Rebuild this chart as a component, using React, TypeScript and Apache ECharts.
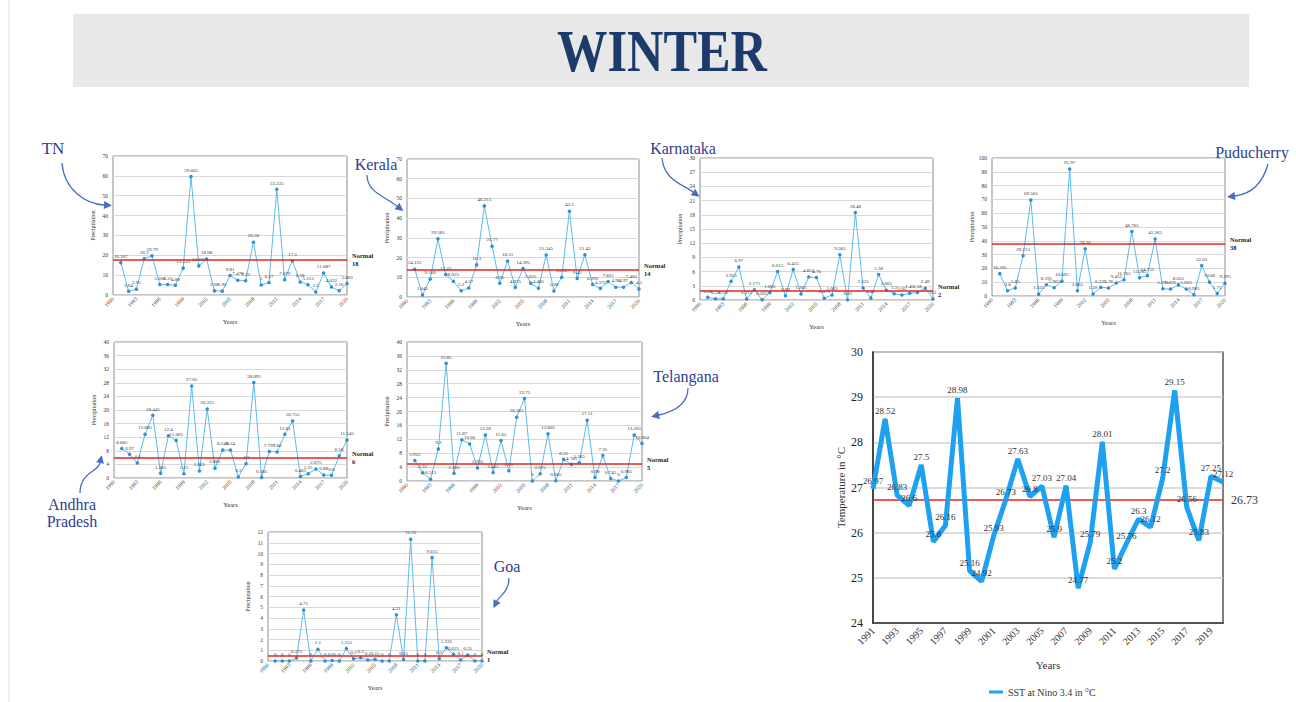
import React, { useEffect, useRef } from "react";
import * as echarts from "echarts";

const FONT = "Liberation Serif";

// x axis ticks of the small charts (1990-2020), data years 1991-2020
const axisYears = ["1990","1991","1992","1993","1994","1995","1996","1997","1998","1999","2000","2001","2002","2003","2004","2005","2006","2007","2008","2009","2010","2011","2012","2013","2014","2015","2016","2017","2018","2019","2020"];
const years = ["1991","1992","1993","1994","1995","1996","1997","1998","1999","2000","2001","2002","2003","2004","2005","2006","2007","2008","2009","2010","2011","2012","2013","2014","2015","2016","2017","2018","2019","2020"];

const tnValues = [16.307,1.84,2.95,18.3,19.79,5.308,5.31,4.88,13.533,59.665,14.665,18.08,2.08,1.95,9.81,7.478,7.23,26.58,5,6.27,53.235,7.679,17.3,6.58,5.213,1.5,11.087,4.032,2.16,5.803];
const keralaValues = [14.125,1.045,9.109,29.585,11.43,8.025,3.2,4.57,16.3,46.215,25.77,6.95,18.31,4.875,14.395,7.035,4.485,21.345,3.08,10.06,43.5,9.45,21.42,6.395,4.375,7.825,4.98,4.97,7.405,4.1];
const karnatakaValues = [0.56,0.28,0.28,3.955,6.97,0.215,2.175,0.035,1.605,6.015,0.88,6.455,1.265,4.855,4.76,0.375,1.065,9.565,0.03,18.48,2.535,0.42,5.38,2.065,1.3,1.05,1.45,1.58,2.49,0.2];
const puducherryValues = [16.205,3.8,5.85,29.213,69.565,1.325,8.195,5.965,10.695,91.97,3.865,34.16,1.39,6.335,5.76,9.455,11.765,46.765,13.285,14.755,41.265,5.295,5.035,8.055,5.025,0.985,22.03,10.06,1.75,9.295];
const apValues = [8.665,6.97,4.4,12.885,18.445,1.365,12.4,11.065,1.25,27.05,2.065,20.315,2.885,8.248,8.24,0.3,4.2,28.095,0.185,7.795,7.66,12.85,16.755,0.465,1.25,2.675,0.88,0.8,6.56,11.145];
const telanganaValues = [5.925,2.35,0.515,9.2,33.85,2.205,11.87,10.66,3.765,13.26,2.465,11.65,2.92,18.365,23.75,0,2.075,13.605,0.065,6.22,4.785,5.265,17.51,0.98,7.35,0.745,0,0.985,13.205,10.804];
const goaValues = [0,0,0,0.275,4.75,0,1.1,0,0.05,0,1.155,0.2,0.3,0.1,0.15,0,0,4.31,0.15,11.33,0,0,9.615,0.2,1.235,0.625,0.1,0.55,0,0];

const tnNormal = 18;
const keralaNormal = 14;
const karnatakaNormal = 2;
const puducherryNormal = 38;
const apNormal = 6;
const telanganaNormal = 5;
const goaNormal = 0.5;

const sstYears = ["1991","1992","1993","1994","1995","1996","1997","1998","1999","2000","2001","2002","2003","2004","2005","2006","2007","2008","2009","2010","2011","2012","2013","2014","2015","2016","2017","2018","2019","2020"];
const sstValues = [26.97,28.52,26.83,26.6,27.5,25.8,26.16,28.98,25.16,24.92,25.93,26.73,27.63,26.8,27.03,25.9,27.04,24.77,25.79,28.01,25.2,25.76,26.3,26.12,27.2,29.15,26.56,25.83,27.25,27.12];
const sstAverage = 26.73;
const sstName = "SST at Nino 3.4 in °C";

const panels = [
  { values: tnValues, normal: tnNormal, normalLabel: "18", max: 70, interval: 10, left: 113, top: 156, width: 234, height: 139 },
  { values: keralaValues, normal: keralaNormal, normalLabel: "14", max: 70, interval: 10, left: 407, top: 159, width: 232, height: 138 },
  { values: karnatakaValues, normal: karnatakaNormal, normalLabel: "2", max: 30, interval: 3, left: 700, top: 158, width: 233, height: 142 },
  { values: puducherryValues, normal: puducherryNormal, normalLabel: "38", max: 100, interval: 10, left: 992, top: 158, width: 233, height: 138 },
  { values: apValues, normal: apNormal, normalLabel: "6", max: 40, interval: 4, left: 114, top: 342, width: 233, height: 136 },
  { values: telanganaValues, normal: telanganaNormal, normalLabel: "5", max: 40, interval: 4, left: 407, top: 342, width: 235, height: 139 },
  { values: goaValues, normal: goaNormal, normalLabel: "1", max: 12, interval: 1, left: 268, top: 532, width: 214, height: 129 },
];

const annoColor = "#2e3d8f";
const arrowColor = "#4a6cc4";
const normalRed = "#e5261b";

function arrow(sx: number, sy: number, c1x: number, c1y: number, c2x: number, c2y: number, ex: number, ey: number) {
  const dx = ex - c2x, dy = ey - c2y;
  const len = Math.sqrt(dx * dx + dy * dy) || 1;
  const ux = dx / len, uy = dy / len;
  const px = -uy, py = ux;
  const tipX = ex + ux * 8, tipY = ey + uy * 8;
  return [
    { type: "bezierCurve", shape: { x1: sx, y1: sy, cpx1: c1x, cpy1: c1y, cpx2: c2x, cpy2: c2y, x2: ex, y2: ey }, style: { stroke: arrowColor, lineWidth: 1.3, fill: "none" } },
    { type: "polygon", shape: { points: [[tipX, tipY], [ex + px * 4, ey + py * 4], [ex - px * 4, ey - py * 4]] }, style: { fill: arrowColor } },
  ];
}

function annoText(x: number, y: number, text: string, size = 16) {
  return { type: "text", x, y, style: { text, fill: annoColor, font: `${size}px "${FONT}"`, textAlign: "center", textVerticalAlign: "middle", lineHeight: 17 } };
}

export default function App() {
  const ref = useRef<HTMLDivElement>(null);
  useEffect(() => {
    if (!ref.current) return;
    const chart = echarts.init(ref.current, undefined, { renderer: "svg" });

    const grids: any[] = [];
    const xAxes: any[] = [];
    const yAxes: any[] = [];
    const series: any[] = [];

    panels.forEach((p, i) => {
      grids.push({ left: p.left, top: p.top, width: p.width, height: p.height, show: true, borderColor: "#8c8c8c", borderWidth: 1, backgroundColor: "#fff" });
      xAxes.push({
        gridIndex: i, type: "category", data: axisYears, boundaryGap: false,
        axisLine: { show: false }, axisTick: { show: false }, splitLine: { show: false },
        axisLabel: { interval: 2, rotate: 45, fontSize: 5.5, fontFamily: FONT, color: "#333333", margin: 3 },
        name: "Years", nameLocation: "middle", nameGap: 23, nameTextStyle: { fontSize: 6.5, fontFamily: FONT, color: "#333333" },
      });
      yAxes.push({
        gridIndex: i, type: "value", min: 0, max: p.max, interval: p.interval,
        axisLine: { show: false }, axisTick: { show: false },
        axisLabel: { fontSize: 5.5, fontFamily: FONT, color: "#333333", margin: 5 },
        splitLine: { lineStyle: { color: "#d9d9d9", width: 1 } },
        name: "Precipitation", nameLocation: "middle", nameGap: 17, nameTextStyle: { fontSize: 6, fontFamily: FONT, color: "#333333" },
      });
      series.push({
        type: "line", xAxisIndex: i, yAxisIndex: i,
        data: years.map((y, k) => [y, p.values[k]]),
        symbol: "circle", symbolSize: 3.5,
        lineStyle: { color: "#5db9ec", width: 1 },
        itemStyle: { color: "#2f8fd6" },
        label: { show: true, position: "top", distance: 2, fontSize: 5, fontFamily: FONT, color: "#333333", formatter: (q: any) => String(q.value[1]) },
        markLine: {
          silent: true, symbol: "none", z: 5,
          lineStyle: { color: normalRed, type: "solid", width: 1.6, opacity: 1 },
          label: { position: "end", formatter: "Normal\n" + p.normalLabel, fontSize: 6.5, fontWeight: "bold", fontFamily: FONT, color: "#222222", distance: 5, lineHeight: 8 },
          data: [{ yAxis: p.normal }],
        },
      });
    });

    const si = panels.length;
    grids.push({ left: 873, top: 352, width: 350, height: 271, show: true, borderColor: "#555", borderWidth: 1.5, backgroundColor: "#fff" });
    xAxes.push({
      gridIndex: si, type: "category", data: sstYears, boundaryGap: false,
      axisLine: { show: true, lineStyle: { color: "#333", width: 1.5 } }, axisTick: { show: false }, splitLine: { show: false },
      axisLabel: { interval: 1, rotate: 45, fontSize: 10, fontFamily: FONT, color: "#333333", margin: 6 },
      name: "Years", nameLocation: "middle", nameGap: 36, nameTextStyle: { fontSize: 11, fontFamily: FONT, color: "#333333" },
    });
    yAxes.push({
      gridIndex: si, type: "value", min: 24, max: 30, interval: 1,
      axisLine: { show: true, lineStyle: { color: "#333", width: 1.5 } }, axisTick: { show: false },
      axisLabel: { fontSize: 12, fontFamily: FONT, color: "#222222", margin: 10 },
      splitLine: { lineStyle: { color: "#d0d0d0", width: 1.5 } },
      name: "Temperature in °C", nameLocation: "middle", nameGap: 27, nameTextStyle: { fontSize: 11, fontFamily: FONT, color: "#333333" },
    });
    series.push({
      name: sstName, type: "line", xAxisIndex: si, yAxisIndex: si,
      data: sstValues,
      symbol: "circle", symbolSize: 1,
      lineStyle: { color: "#1ea1f0", width: 5 },
      itemStyle: { color: "#1ea1f0" },
      label: { show: true, position: "top", distance: 3, fontSize: 9, fontFamily: FONT, color: "#333333" },
      markLine: {
        silent: true, symbol: "none", z: 1,
        lineStyle: { color: normalRed, type: "solid", width: 1.6, opacity: 1 },
        label: { position: "end", formatter: String(sstAverage), fontSize: 12, fontFamily: FONT, color: "#333333", distance: 8 },
        data: [{ yAxis: sstAverage }],
      },
    });

    const graphics: any[] = [
      { type: "line", shape: { x1: 9, y1: 0, x2: 9, y2: 702 }, style: { stroke: "#e0e0e0", lineWidth: 1 } },
      { type: "rect", shape: { x: 73, y: 14, width: 1176, height: 73 }, style: { fill: "#e8e8e8" } },
      { type: "text", x: 662, y: 51, scaleX: 0.84, style: { text: "WINTER", fill: "#1c3a6c", font: `bold 60px "${FONT}"`, textAlign: "center", textVerticalAlign: "middle" } },
      annoText(53, 148, "TN", 17),
      ...arrow(62, 163, 64, 190, 86, 204, 104, 205),
      annoText(376, 164, "Kerala"),
      ...arrow(367, 175, 367, 192, 384, 196, 397, 206),
      annoText(683, 148, "Karnataka"),
      ...arrow(662, 158, 664, 180, 682, 184, 693, 192),
      annoText(1252, 152, "Puducherry"),
      ...arrow(1268, 164, 1262, 186, 1250, 194, 1235, 196),
      annoText(72, 513, "Andhra\nPradesh"),
      ...arrow(80, 493, 80, 472, 98, 472, 100, 463),
      annoText(686, 376, "Telangana"),
      ...arrow(688, 388, 688, 405, 672, 412, 659, 415),
      annoText(507, 566, "Goa"),
      ...arrow(509, 578, 509, 592, 500, 595, 497, 601),
    ];

    chart.setOption({
      animation: false,
      backgroundColor: "#fff",
      textStyle: { fontFamily: FONT },
      grid: grids,
      xAxis: xAxes,
      yAxis: yAxes,
      series,
      legend: {
        data: [sstName], left: 984, top: 682, icon: "rect", itemWidth: 14, itemHeight: 3,
        textStyle: { fontSize: 10, fontFamily: FONT, color: "#333333" },
      },
      graphic: graphics,
    });
    return () => chart.dispose();
  }, []);
  return <div ref={ref} style={{ position: "absolute", left: 0, top: 0, width: 1296, height: 702 }} />;
}
